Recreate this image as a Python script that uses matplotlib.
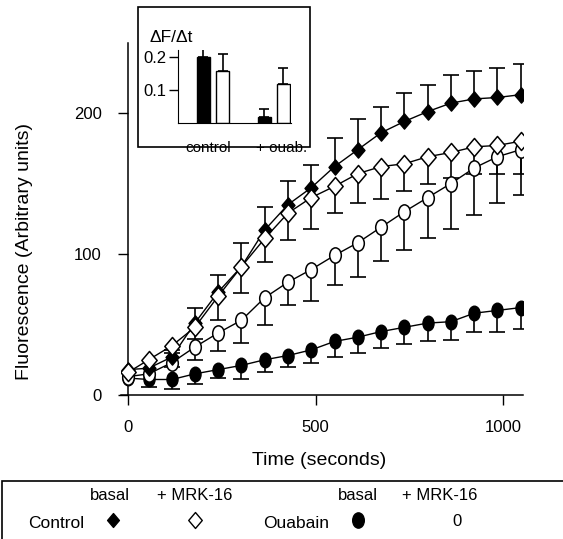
import numpy as np
import matplotlib
matplotlib.use("Agg")
import matplotlib.pyplot as plt
from matplotlib.path import Path
from matplotlib.patches import Rectangle

plt.rcParams["font.family"] = ["Liberation Sans", "DejaVu Sans"]

# === data ===
time_s = [0, 55, 117, 178, 240, 302, 364, 426, 488, 550, 612, 674, 736, 798, 860, 922, 984, 1046]

ctrl_basal = [18, 19, 27, 51, 73, 91, 117, 135, 147, 162, 174, 186, 194, 201, 207, 210, 211, 213]
ctrl_basal_err = [0, 0, 3, 11, 12, 17, 16, 17, 16, 20, 22, 18, 20, 19, 20, 20, 21, 22]      # upward

ctrl_mrk = [16, 25, 35, 48, 70, 91, 111, 129, 140, 148, 157, 162, 164, 169, 172, 176, 177, 180]
ctrl_mrk_err = [0, 0, 3, 8, 17, 19, 17, 19, 22, 19, 21, 23, 19, 19, 18, 19, 20, 23]         # downward

ouab_basal = [12, 11, 11, 15, 18, 21, 25, 28, 32, 38, 41, 45, 48, 51, 52, 58, 60, 62]
ouab_basal_err = [0, 5, 7, 7, 6, 10, 9, 8, 9, 11, 11, 12, 12, 13, 13, 13, 15, 15]         # downward

ouab_mrk = [13, 15, 23, 34, 44, 53, 69, 80, 89, 99, 108, 119, 130, 140, 150, 161, 169, 174]
ouab_mrk_err = [0, 0, 3, 9, 13, 16, 19, 16, 22, 21, 24, 24, 27, 29, 32, 33, 33, 32]        # downward

# inset: rate of fluorescence increase
inset_groups = ["control", "+ ouab."]
rate_basal = [0.200, 0.018]
rate_basal_err = [0.060, 0.024]
rate_mrk = [0.158, 0.118]
rate_mrk_err = [0.051, 0.049]

# === marker shapes (slightly tall, like the scanned original) ===
circ = Path.unit_circle()
ellipse = Path(circ.vertices * [0.76, 1.0], circ.codes)
diamond = Path([(0, 1), (0.85, 0), (0, -1), (-0.85, 0), (0, 1)],
               [Path.MOVETO, Path.LINETO, Path.LINETO, Path.LINETO, Path.CLOSEPOLY])

W, H = 563, 539
fig = plt.figure(figsize=(W / 100, H / 100), dpi=100)

# main axes: y spine sits at t=0
ax = fig.add_axes([120.5 / W, 1 - 395 / H, 402.5 / W, 352.5 / H])
ax.set_xlim(-20, 1052)
ax.set_ylim(0, 250)
ax.spines["left"].set_position(("data", 0))
for s in ["top", "right"]:
    ax.spines[s].set_visible(False)
for s in ["left", "bottom"]:
    ax.spines[s].set_linewidth(1.1)
ax.set_xticks([0, 500, 1000])
ax.set_yticks([0, 100, 200])
ax.tick_params(axis="x", direction="out", length=7, width=1, labelsize=12, pad=11)
ax.tick_params(axis="y", direction="out", length=7, width=1, labelsize=12, pad=12)
ax.set_xlabel("Time (seconds)", fontsize=14)
ax.set_ylabel("Fluorescence (Arbitrary units)", fontsize=14)
ax.xaxis.set_label_coords(0.493, -0.162)
ax.yaxis.set_label_coords(-0.217, 0.406)


def one_sided(x, y, err, sign):
    y = np.array(y, float)
    end = y + sign * np.array(err, float)
    mask = np.array(err) > 0
    xs = np.array(x)[mask]
    ax.vlines(xs, y[mask], end[mask], color="k", lw=1.2, zorder=1)
    ax.plot(xs, end[mask], ls="none", marker="_", ms=11, mew=1.2, color="k", zorder=1)


one_sided(time_s, ctrl_basal, ctrl_basal_err, +1)
one_sided(time_s, ctrl_mrk, ctrl_mrk_err, -1)
one_sided(time_s, ouab_basal, ouab_basal_err, -1)
one_sided(time_s, ouab_mrk, ouab_mrk_err, -1)

ax.plot(time_s, ouab_basal, color="k", lw=1, marker=ellipse, ms=10.5, mfc="k", mec="k", zorder=3)
ax.plot(time_s, ouab_mrk, color="k", lw=1, marker=ellipse, ms=11, mfc="white", mec="k", mew=1.1, zorder=3)
ax.plot(time_s, ctrl_basal, color="k", lw=1, marker=diamond, ms=11, mfc="k", mec="k", zorder=4)
ax.plot(time_s, ctrl_mrk, color="k", lw=1, marker=diamond, ms=13, mfc="white", mec="k", mew=1.1, zorder=5)

# === inset bar chart ===
fig.add_artist(Rectangle((138 / W, 1 - 147 / H), (310 - 138) / W, (147 - 7) / H,
                         transform=fig.transFigure, facecolor="white",
                         edgecolor="k", lw=1.2, zorder=2))
ins = fig.add_axes([178 / W, 1 - 123 / H, (291 - 178) / W, 72.6 / H])
ins.set_zorder(3)
ins.patch.set_visible(False)
gx = np.arange(len(inset_groups))
ins.bar(gx - 0.156, rate_basal, width=0.213, color="k", edgecolor="k", lw=1)
ins.bar(gx + 0.156, rate_mrk, width=0.213, color="white", edgecolor="k", lw=1)
ins.errorbar(gx - 0.156, rate_basal, yerr=[[0, 0], rate_basal_err], fmt="none",
             ecolor="k", elinewidth=1.2, capsize=3.5, capthick=1.2)
ins.errorbar(gx + 0.156, rate_mrk, yerr=[[0, 0], rate_mrk_err], fmt="none",
             ecolor="k", elinewidth=1.2, capsize=3.5, capthick=1.2)
ins.set_xlim(-0.574, 1.279)
ins.set_ylim(0, 0.22)
for s in ["top", "right"]:
    ins.spines[s].set_visible(False)
ins.set_yticks([0.1, 0.2])
ins.set_yticklabels(["0.1", "0.2"])
ins.set_xticks([])
ins.tick_params(axis="y", direction="out", length=6.5, width=1, labelsize=12, pad=2)
ins.text(-0.08, -0.055, inset_groups[0], ha="center", va="top", fontsize=11)
ins.text(1.13, -0.055, inset_groups[1], ha="center", va="top", fontsize=11)
ins.text(-0.69, 0.258, "\u0394F/\u0394t", ha="center", va="center", fontsize=12.5,
         clip_on=False)

# === legend strip at the bottom ===
lax = fig.add_axes([0, 0, 1, 58 / H])
lax.set_xlim(0, W)
lax.set_ylim(0, 58)
lax.axis("off")
lax.add_patch(Rectangle((2, -10), 700, 68, facecolor="none", edgecolor="k", lw=1.2, clip_on=False))
fs = 12
lax.text(110, 44, "basal", ha="center", va="center", fontsize=fs)
lax.text(195, 44, "+ MRK-16", ha="center", va="center", fontsize=fs)
lax.text(358, 44, "basal", ha="center", va="center", fontsize=fs)
lax.text(440, 44, "+ MRK-16", ha="center", va="center", fontsize=fs)
lax.text(56, 16, "Control", ha="center", va="center", fontsize=12.5)
lax.text(296, 15, "Ouabain", ha="center", va="center", fontsize=12.5)
lax.plot([113], [19], ls="none", marker=diamond, ms=10, mfc="k", mec="k")
lax.plot([195], [19], ls="none", marker=diamond, ms=11.5, mfc="white", mec="k", mew=1)
lax.plot([358], [19], ls="none", marker=ellipse, ms=11, mfc="k", mec="k")
lax.text(457, 18, "0", ha="center", va="center", fontsize=12, fontweight="light")

fig.savefig("out.png", dpi=100)
